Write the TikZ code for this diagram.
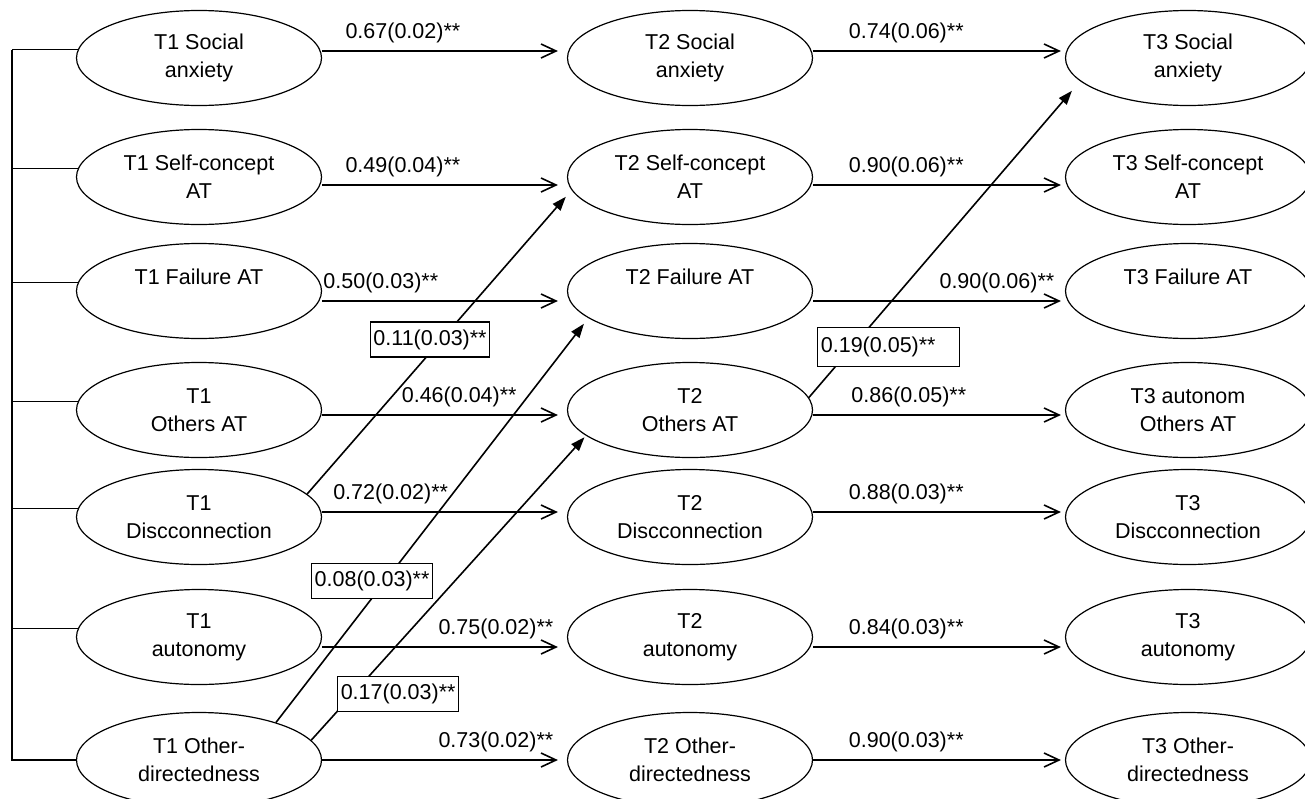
\documentclass[tikz,border=0pt]{standalone}
\usepackage{fontspec}
\setmainfont{Liberation Sans}
\usetikzlibrary{arrows.meta,shapes.geometric}

\begin{document}
\begin{tikzpicture}[x=0.5pt, y=-0.5pt,
  font=\fontsize{10.75}{14}\selectfont,
  var/.style={draw, ellipse, line width=0.6pt, minimum width=122.5pt, minimum height=47.5pt, inner sep=0pt, align=center},
  stab/.style={line width=0.8pt, shorten >=2pt, -{Straight Barb[length=7.5pt, width=7pt]}},
  lag/.style={line width=0.8pt, -{Triangle[length=7pt, width=5pt]}},
  coef/.style={above=2.5pt, inner sep=1pt},
  coefbox/.style={draw, fill=white, line width=0.6pt, inner xsep=1.5pt, minimum height=17.5pt}]
  \useasboundingbox (0,0) rectangle (1305,798);
  % wave 1
  \node[var] (t1sa) at (199,58) {T1 Social\\anxiety};
  \node[var] (t1sc) at (199,177) {T1 Self-concept\\AT};
  \node[var] (t1fa) at (199,291) {T1 Failure AT\\\mbox{}};
  \node[var] (t1oa) at (199,410) {T1\\Others AT};
  \node[var] (t1dc) at (199,517) {T1\\Discconnection};
  \node[var] (t1au) at (199,637) {T1\\autonomy};
  \node[var] (t1od) at (199,760) {T1 Other-\\directedness};
  % wave 2
  \node[var] (t2sa) at (690,58) {T2 Social\\anxiety};
  \node[var] (t2sc) at (690,177) {T2 Self-concept\\AT};
  \node[var] (t2fa) at (690,291) {T2 Failure AT\\\mbox{}};
  \node[var] (t2oa) at (690,410) {T2\\Others AT};
  \node[var] (t2dc) at (690,517) {T2\\Discconnection};
  \node[var] (t2au) at (690,637) {T2\\autonomy};
  \node[var] (t2od) at (690,760) {T2 Other-\\directedness};
  % wave 3
  \node[var] (t3sa) at (1188,58) {T3 Social\\anxiety};
  \node[var] (t3sc) at (1188,177) {T3 Self-concept\\AT};
  \node[var] (t3fa) at (1188,291) {T3 Failure AT\\\mbox{}};
  \node[var] (t3oa) at (1188,410) {T3 autonom\\Others AT};
  \node[var] (t3dc) at (1188,517) {T3\\Discconnection};
  \node[var] (t3au) at (1188,637) {T3\\autonomy};
  \node[var] (t3od) at (1188,760) {T3 Other-\\directedness};
  % correlated T1 bracket
  \coordinate (spine) at (12,0);
  \draw[line width=0.8pt] (spine |- t1sa.176) |- (t1od.west);
  \foreach \v in {t1sa,t1sc,t1fa,t1oa,t1dc,t1au}
    \draw[line width=0.8pt] (\v.176) -- (spine |- \v.176);
  % stability paths T1 -> T2
  \draw[stab, shorten >=4.5pt] ([yshift=3.5pt]t1sa.east) -- node[coef, pos=.33] (s1sa) {0.67(0.02)**} ([yshift=3.5pt]t2sa.west);
  \draw[stab, shorten >=4.5pt] ([yshift=-4pt]t1sc.east) -- node[coef, pos=.33] (s1sc) {0.49(0.04)**} ([yshift=-4pt]t2sc.west);
  \draw[stab, shorten >=4.5pt] ([yshift=-5pt]t1fa.east) -- node[coef, pos=.24] (s1fa) {0.50(0.03)**} ([yshift=-5pt]t2fa.west);
  \draw[stab, shorten >=4.5pt] ([yshift=-2.5pt]t1oa.east) -- node[coef, pos=.56] (s1oa) {0.46(0.04)**} ([yshift=-2.5pt]t2oa.west);
  \draw[stab, shorten >=4.5pt] ([yshift=2.5pt]t1dc.east) -- node[coef, pos=.28] (s1dc) {0.72(0.02)**} ([yshift=2.5pt]t2dc.west);
  \draw[stab, shorten >=4.5pt] ([yshift=-5pt]t1au.east) -- node[coef, pos=.71] (s1au) {0.75(0.02)**} ([yshift=-5pt]t2au.west);
  \draw[stab, shorten >=4.5pt] (t1od.east) -- node[coef, pos=.71] (s1od) {0.73(0.02)**} (t2od.west);
  % stability paths T2 -> T3
  \draw[stab] ([yshift=3.5pt]t2sa.east) -- node[coef, pos=.37] (s2sa) {0.74(0.06)**} ([yshift=3.5pt]t3sa.west);
  \draw[stab] ([yshift=-4pt]t2sc.east) -- node[coef, pos=.37] (s2sc) {0.90(0.06)**} ([yshift=-4pt]t3sc.west);
  \draw[stab] ([yshift=-5pt]t2fa.east) -- node[coef, pos=.73] (s2fa) {0.90(0.06)**} ([yshift=-5pt]t3fa.west);
  \draw[stab] ([yshift=-2.5pt]t2oa.east) -- node[coef, pos=.38] (s2oa) {0.86(0.05)**} ([yshift=-2.5pt]t3oa.west);
  \draw[stab] ([yshift=2.5pt]t2dc.east) -- node[coef, pos=.37] (s2dc) {0.88(0.03)**} ([yshift=2.5pt]t3dc.west);
  \draw[stab] ([yshift=-5pt]t2au.east) -- node[coef, pos=.37] (s2au) {0.84(0.03)**} ([yshift=-5pt]t3au.west);
  \draw[stab] (t2od.east) -- node[coef, pos=.37] (s2od) {0.90(0.03)**} (t3od.west);
  % cross-lagged paths
  \draw[lag] (t1dc.12) -- node[coefbox, pos=.52, xshift=-5.8pt] (x1) {0.11(0.03)**} ([xshift=-6pt]t2sc.190);
  \draw[lag] (t1od.26) -- node[coefbox, pos=.355, xshift=-6.6pt] (x2) {0.08(0.03)**} ([xshift=-8pt]t2fa.200);
  \draw[lag] (t1od.10) -- node[coefbox, pos=.152, xshift=22.7pt] (x3) {0.17(0.03)**} ([xshift=-2pt]t2oa.195);
  \draw[lag] (t2oa.6) -- node[coefbox, pos=.165, xshift=18.3pt, text width=68pt, align=left, minimum height=19.5pt] (x4) {0.19(0.05)**} ([xshift=-13pt]t3sa.200);
\end{tikzpicture}
\end{document}
